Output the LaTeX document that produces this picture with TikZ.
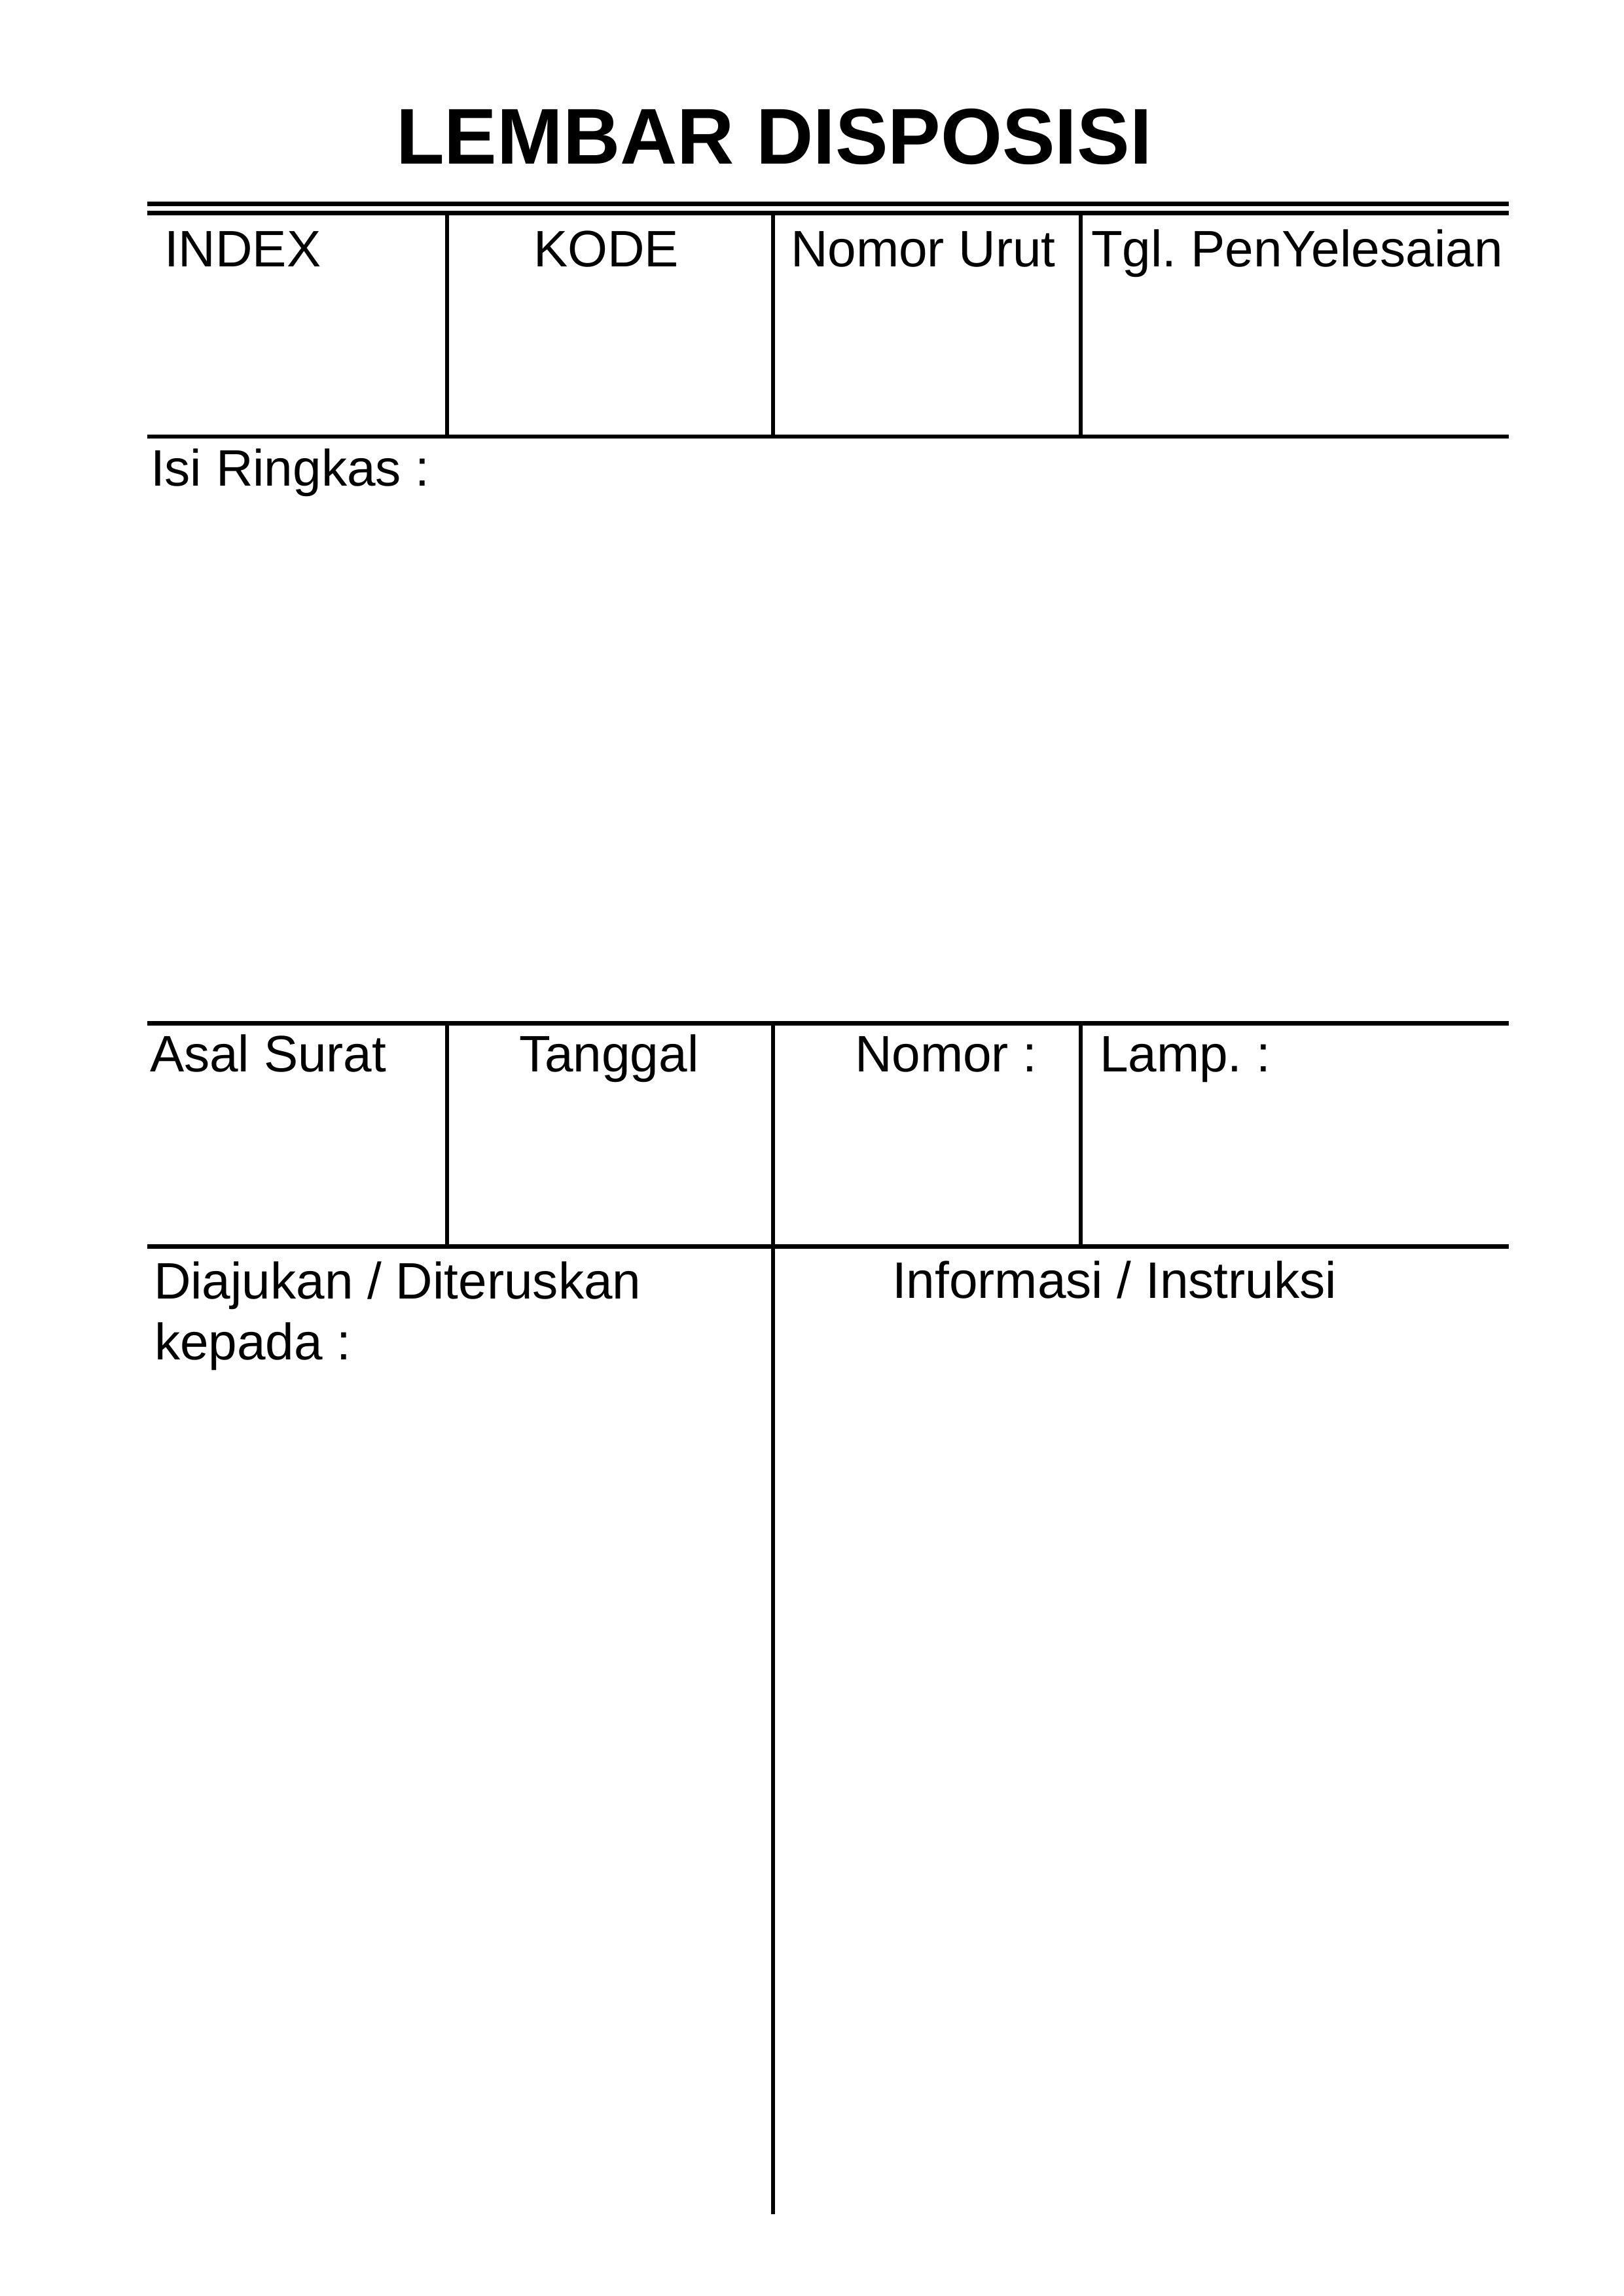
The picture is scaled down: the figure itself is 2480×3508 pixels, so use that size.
\documentclass[tikz,border=0pt]{standalone}
\usepackage{fontspec}
\setmainfont{Liberation Sans}
\frenchspacing
\begin{document}
\begin{tikzpicture}[x=0.24pt,y=-0.24pt,
  rule/.style={line width=1.65pt,black},
  lbl/.style={anchor=base west,inner sep=0pt,outer sep=0pt,font=\fontsize{18.8pt}{22pt}\selectfont},
  ttl/.style={anchor=base west,inner sep=0pt,outer sep=0pt,font=\fontsize{29pt}{34pt}\selectfont\bfseries}]
\useasboundingbox (0,0) rectangle (2480,3508);
\fill[white] (0,0) rectangle (2480,3508);
% grid coordinates
\coordinate (L1) at (225,311.5);  \coordinate (R1) at (2305,311.5);
\coordinate (L2) at (225,325.5);  \coordinate (R2) at (2305,325.5);
\coordinate (L3) at (225,667);    \coordinate (R3) at (2305,667);
\coordinate (L4) at (225,1563.5); \coordinate (R4) at (2305,1563.5);
\coordinate (L5) at (225,1904.5); \coordinate (R5) at (2305,1904.5);
% title
\node[ttl] (title) at (605,251) {LEMBAR DISPOSISI};
% horizontal rules
\draw[rule] (L1) -- (R1);
\draw[rule] (L2) -- (R2);
\draw[rule] (L3) -- (R3);
\draw[rule] (L4) -- (R4);
\draw[rule] (L5) -- (R5);
% vertical rules, top block
\draw[rule] (683,325.5) -- (683,667);
\draw[rule] (1181,325.5) -- (1181,667);
\draw[rule] (1651,325.5) -- (1651,667);
% vertical rules, middle block
\draw[rule] (683,1563.5) -- (683,1904.5);
\draw[rule] (1181,1563.5) -- (1181,1904.5);
\draw[rule] (1651,1563.5) -- (1651,1904.5);
% long centre rule
\draw[rule] (1181,1904.5) -- (1181,3383);
% labels
\node[lbl] (index) at (251,408) {INDEX};
\node[lbl] (kode) at (815,408) {KODE};
\node[lbl] (nomorurut) at (1208,408) {Nomor Urut};
\node[lbl] (tgl) at (1667,408) {Tgl. PenYelesaian};
\node[lbl] (isi) at (230,743) {Isi Ringkas :};
\node[lbl] (asal) at (229,1637.5) {Asal Surat};
\node[lbl] (tanggal) at (793,1637.5) {Tanggal};
\node[lbl] (nomor) at (1306,1637.5) {Nomor :};
\node[lbl] (lamp) at (1680,1637.5) {Lamp. :};
\node[lbl] (diajukan) at (235,1984) {Diajukan / Diteruskan};
\node[lbl] (kepada) at (236,2077.5) {kepada :};
\node[lbl] (info) at (1363,1983) {Informasi / Instruksi};
\end{tikzpicture}
\end{document}
